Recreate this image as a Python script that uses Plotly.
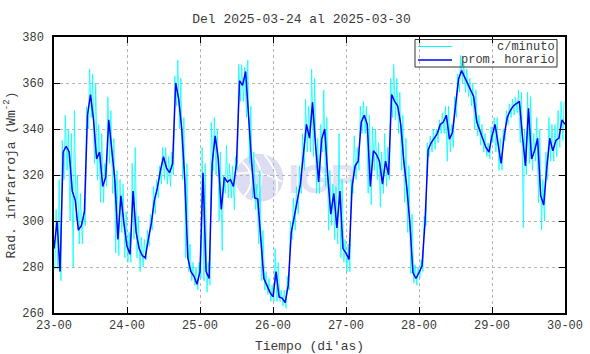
import base64
import pandas as pd
import plotly.graph_objects as go

# ---------------- data ----------------
start = "2025-03-23 00:00"

# hourly mean (prom. horario), h = 0 .. 168
prom_horario = [
    288, 300, 278, 330, 332.5, 330, 313, 309, 296, 298, 304, 346,
    355, 344, 327, 330, 315, 319, 344, 330, 318, 292, 311, 299,
    289, 285.5, 313, 295, 288, 285, 284, 292, 299, 309, 314.5, 322,
    328, 323, 321, 325, 360, 353, 340, 318, 284, 278, 276, 272.5,
    278, 321, 278, 275, 325, 337, 327, 305, 319, 317, 318, 315,
    325, 361, 359, 365, 344, 325, 310, 309.5, 292, 275, 272, 269,
    267, 278, 267, 266.5, 264.5, 272, 295, 302, 309.5, 316, 329, 342,
    336, 351.6, 333, 317, 335.6, 340, 319.6, 303, 312, 297, 313, 288,
    286, 283.3, 315, 324, 326, 343, 346, 342, 315, 330.5, 329, 326,
    316, 326, 320, 355, 352, 350, 342, 326, 314.5, 299, 277.6, 275,
    277.6, 280.4, 300, 331, 334, 336, 338, 342, 343, 346, 335.6, 338.5,
    349, 361.7, 365.4, 362.5, 360, 357, 354, 343, 339, 336, 332, 330,
    337, 342, 333, 325, 337, 345, 348, 350, 351, 352, 337, 324,
    349, 327, 330.5, 336, 311, 307, 323, 336, 330.5, 335, 336, 344,
    342,
]

# per-hour low / high of the 1-minute series (c/minuto), hours 0 .. 167
minuto_bajo = [
    279, 279, 274, 318, 322, 300, 280, 300, 290, 290, 298, 340,
    345, 325, 318, 308, 308, 315, 325, 312, 286, 285, 295, 284,
    282, 282, 292, 284, 278, 280, 283, 289, 296, 303, 310, 316,
    318, 316, 315, 320, 350, 340, 318, 284, 278, 274, 272, 270,
    275, 274, 269, 272, 322, 320, 300, 287, 312, 310, 310, 305,
    322, 352, 352, 345, 325, 310, 305, 290, 274, 270, 268, 265,
    265, 265, 265, 263, 262, 270, 292, 296, 303, 312, 322, 330,
    330, 328, 312, 312, 330, 315, 296, 298, 292, 290, 284, 282,
    278, 278, 312, 318, 322, 338, 338, 312, 307, 322, 318, 306,
    312, 315, 318, 345, 344, 338, 322, 308, 295, 277, 273, 272,
    275, 278, 298, 328, 330, 331, 334, 338, 338, 326, 330, 332,
    345, 356, 360, 356, 354, 350, 340, 337, 333, 330, 328, 327,
    334, 330, 322, 322, 335, 342, 345, 346, 347, 334, 297, 320,
    325, 322, 326, 308, 296, 300, 318, 326, 326, 328, 332, 335,
]
minuto_alto = [
    305, 318, 335, 346, 340, 338, 348, 320, 312, 304, 350, 366,
    364, 360, 342, 338, 325, 354, 348, 336, 322, 318, 316, 304,
    295, 325, 332, 302, 293, 292, 296, 303, 315, 318, 324, 332,
    332, 328, 330, 363, 370, 362, 345, 325, 290, 282, 280, 282,
    332, 325, 282, 343, 345, 340, 330, 320, 333, 325, 324, 328,
    368, 368, 367, 370, 350, 330, 316, 322, 296, 278, 275, 272,
    288, 282, 270, 270, 276, 300, 310, 315, 324, 338, 353, 350,
    366, 362, 336, 342, 357, 345, 322, 316, 315, 338, 318, 292,
    290, 318, 337, 332, 350, 352, 350, 346, 341, 340, 334, 330,
    338, 332, 362, 368, 362, 356, 346, 336, 324, 303, 281, 280,
    283, 302, 334, 337, 340, 340, 344, 347, 350, 350, 342, 354,
    364, 372, 369, 366, 362, 360, 357, 346, 342, 338, 334, 341,
    345, 345, 336, 340, 348, 351, 353, 354, 357, 356, 340, 356,
    354, 338, 345, 340, 318, 330, 345, 342, 342, 348, 352, 352,
]

x_ticks = pd.date_range("2025-03-23", "2025-03-30", freq="D")
x_labels = [d.strftime("%d-%H") for d in x_ticks]
y_ticks = [260, 280, 300, 320, 340, 360, 380]
legend_labels = ["c/minuto", "prom. horario"]

CYAN = "#00ffff"
BLUE = "#0000ff"

# ---------------- build series ----------------
t_hour = pd.date_range(start, periods=len(prom_horario), freq="h")
t_min, v_min = [], []
for i, (lo, hi) in enumerate(zip(minuto_bajo, minuto_alto)):
    base = pd.Timestamp(start) + pd.Timedelta(hours=i)
    t_min += [base + pd.Timedelta(minutes=18), base + pd.Timedelta(minutes=42)]
    v_min += [lo, hi]

FONT = "Liberation Mono"
TXT = "#3a3a3a"

fig = go.Figure()
fig.add_trace(go.Scatter(x=t_min, y=v_min, mode="lines",
                         line=dict(color=CYAN, width=0.8),
                         name=legend_labels[0], showlegend=False))
fig.add_trace(go.Scatter(x=t_hour, y=prom_horario, mode="lines",
                         line=dict(color=BLUE, width=1.5),
                         name=legend_labels[1], showlegend=False))

# faint watermark logo (behind the data)
svg = """<svg xmlns='http://www.w3.org/2000/svg' width='120' height='52' viewBox='0 0 120 52'>
<circle cx='25' cy='26' r='24' fill='#dcdcf2'/>
<path d='M8 10 Q25 26 10 44' stroke='white' stroke-width='2' fill='none'/>
<path d='M18 3 Q36 26 18 49' stroke='white' stroke-width='2' fill='none'/>
<path d='M30 3 Q46 20 42 42' stroke='white' stroke-width='2' fill='none'/>
<path d='M2 22 Q26 18 48 30' stroke='white' stroke-width='1.5' fill='none'/>
<text x='54' y='41' font-family='Liberation Sans' font-weight='bold' font-size='40' fill='#e2e2f4'>IGP</text>
</svg>"""
src = "data:image/svg+xml;base64," + base64.b64encode(svg.encode()).decode()
fig.add_layout_image(dict(source=src, xref="paper", yref="paper",
                          x=0.353, y=0.584, sizex=0.2346, sizey=0.1886,
                          xanchor="left", yanchor="top", sizing="stretch",
                          layer="below", opacity=1))

# legend box drawn in pixel-like paper coordinates
L, R, T, B = 54, 565, 37, 313
def px(x):
    return (x - L) / (R - L)
def py(y):
    return 1 - (y - T) / (B - T)

fig.add_shape(type="rect", xref="paper", yref="paper",
              x0=px(415), x1=px(557), y0=py(39.5), y1=py(67),
              line=dict(color="#333333", width=1), fillcolor="rgba(0,0,0,0)")
for k, (col, w, yy) in enumerate([(CYAN, 1, 46.5), (BLUE, 1.5, 60)]):
    fig.add_shape(type="line", xref="paper", yref="paper",
                  x0=px(418), x1=px(452), y0=py(yy), y1=py(yy),
                  line=dict(color=col, width=w))
    fig.add_annotation(xref="paper", yref="paper", x=px(556.5), y=py(yy),
                       xanchor="right", yanchor="middle", showarrow=False,
                       text=legend_labels[k],
                       font=dict(family=FONT, size=12, color=TXT))

axis_common = dict(showline=True, linecolor="black", linewidth=1.5, mirror="ticks",
                   ticks="inside", ticklen=6, tickwidth=1, tickcolor="black",
                   showgrid=True, gridcolor="#b4b4b4", griddash="dot", gridwidth=1,
                   zeroline=False,
                   tickfont=dict(family=FONT, size=12, color=TXT))

fig.update_xaxes(range=[x_ticks[0], x_ticks[-1]], tickvals=x_ticks, ticktext=x_labels,
                 title=dict(text="Tiempo (di'as)", font=dict(family=FONT, size=13, color=TXT),
                            standoff=9),
                 **axis_common)
fig.update_yaxes(range=[260, 380], tickvals=y_ticks,
                 title=dict(text="Rad. infrarroja (Wm<sup>-2</sup>)",
                            font=dict(family=FONT, size=13, color=TXT), standoff=4),
                 ticklabelstandoff=6,
                 **axis_common)

fig.update_layout(
    width=590, height=354,
    margin=dict(l=L, r=590 - R, t=T, b=354 - B, autoexpand=False),
    paper_bgcolor="white", plot_bgcolor="white",
    title=dict(text="Del 2025-03-24 al 2025-03-30", x=0.511, xanchor="center",
               y=1 - 18 / 354, yanchor="middle",
               font=dict(family=FONT, size=13, color=TXT)),
    showlegend=False,
)

fig.write_html("out.html")
